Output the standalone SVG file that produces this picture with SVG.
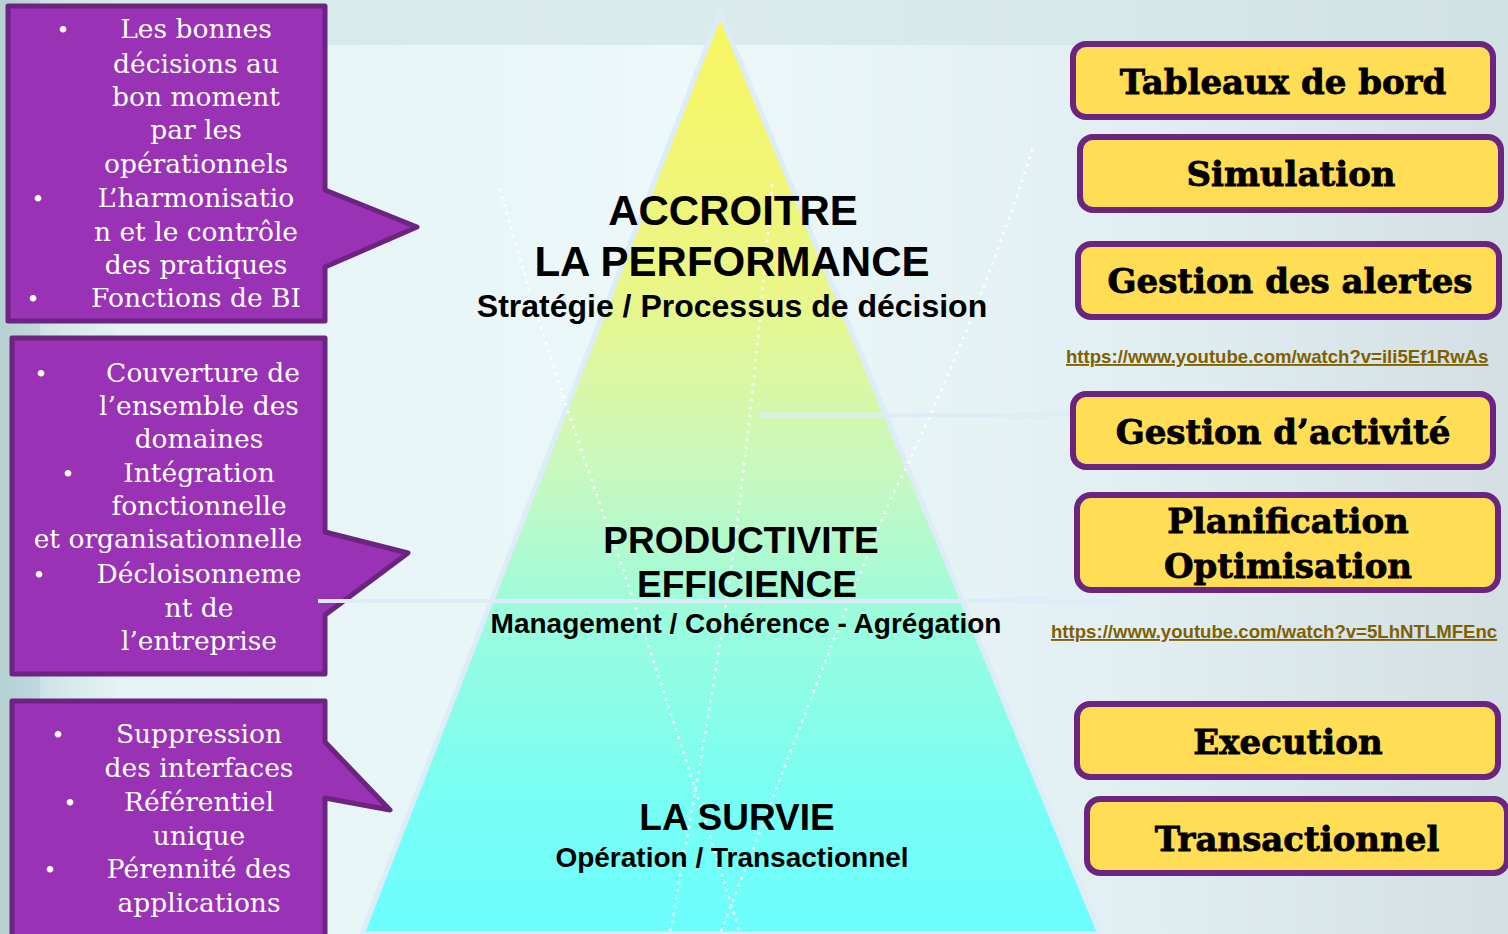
<svg xmlns="http://www.w3.org/2000/svg" width="1508" height="934" viewBox="0 0 1508 934">
<defs>
<linearGradient id="bg" x1="0" y1="0" x2="1" y2="0">
<stop offset="0" stop-color="#b9d3d6"/>
<stop offset="0.03" stop-color="#cfe4e6"/>
<stop offset="0.08" stop-color="#e4f3f5"/>
<stop offset="0.45" stop-color="#ecf8fa"/>
<stop offset="0.75" stop-color="#e2eff2"/>
<stop offset="1" stop-color="#d3dfe3"/>
</linearGradient>
<linearGradient id="pyr" x1="0" y1="13" x2="0" y2="934" gradientUnits="userSpaceOnUse">
<stop offset="0" stop-color="#f8f55e"/>
<stop offset="0.3" stop-color="#eaf688"/>
<stop offset="0.5" stop-color="#c8f8c0"/>
<stop offset="0.65" stop-color="#9cfcdc"/>
<stop offset="0.85" stop-color="#78fef4"/>
<stop offset="1" stop-color="#6cfefe"/>
</linearGradient>
<style>
.call{fill:#9932b5;stroke:#6b2480;stroke-width:5;stroke-linejoin:round}
.ct{font-family:"DejaVu Serif","Liberation Serif",serif;font-size:26.5px;fill:#ffffff;text-anchor:middle}
.bul{font-family:"DejaVu Serif","Liberation Serif",serif;font-size:22px;fill:#ffffff;text-anchor:middle}
.box{fill:#ffdd55;stroke:#6b2480;stroke-width:6}
.bt{font-family:"DejaVu Serif","Liberation Serif",serif;font-weight:bold;font-size:34px;fill:#000000;stroke:#000000;stroke-width:0.8;text-anchor:middle}
.pt{font-family:"Liberation Sans",Arial,sans-serif;font-weight:bold;fill:#000000;text-anchor:middle}
.lnk{font-family:"Liberation Sans",Arial,sans-serif;font-weight:bold;font-size:18.6px;fill:#7f6000;text-decoration:underline}
.dots{fill:none;stroke:#ffffff;stroke-width:3;stroke-linecap:round;stroke-dasharray:0 8;opacity:0.95}
.deco{stroke:#dcedf9;stroke-width:4}
</style>
</defs>
<rect x="0" y="0" width="1508" height="934" fill="url(#bg)"/>
<rect x="40" y="0" width="1468" height="45" fill="#cfe2e5" opacity="0.6"/>
<rect x="0" y="0" width="40" height="934" fill="#b3cdd0" opacity="0.5"/>

<g id="pyramid">
<polygon points="720,13 362,934 1100,934" fill="url(#pyr)" stroke="#dcecf8" stroke-width="5" stroke-linejoin="round"/>
</g>

<g id="decor">
<path class="dots" d="M500,190 C540,330 580,450 620,560 C660,680 700,800 740,934"/>
<path class="dots" d="M772,185 C760,330 745,470 728,590 C712,700 690,820 670,934"/>
<path class="dots" d="M1032,150 C990,280 940,400 890,500 C840,620 780,780 720,934"/>
</g>

<g id="callout-1">
<path class="call" d="M8,6 H325 V190 L417,227 L325,267 V321 H8 Z"/>
<text class="bul" x="63" y="38">•</text>
<text class="bul" x="38" y="207">•</text>
<text class="bul" x="33" y="307">•</text>
<text class="ct" x="196" y="38">Les bonnes</text>
<text class="ct" x="196" y="73">décisions au</text>
<text class="ct" x="196" y="106">bon moment</text>
<text class="ct" x="196" y="139">par les</text>
<text class="ct" x="196" y="173">opérationnels</text>
<text class="ct" x="196" y="207">L’harmonisatio</text>
<text class="ct" x="196" y="241">n et le contrôle</text>
<text class="ct" x="196" y="274">des pratiques</text>
<text class="ct" x="196" y="307">Fonctions de BI</text>
</g>

<g id="callout-2">
<path class="call" d="M12,338 H325 V532 L408,553 L325,615 V674 H12 Z"/>
<text class="bul" x="41" y="382">•</text>
<text class="bul" x="68" y="482">•</text>
<text class="bul" x="39" y="583">•</text>
<text class="ct" x="203" y="382">Couverture de</text>
<text class="ct" x="199" y="415">l’ensemble des</text>
<text class="ct" x="199" y="448">domaines</text>
<text class="ct" x="199" y="482">Intégration</text>
<text class="ct" x="199" y="515">fonctionnelle</text>
<text class="ct" x="168" y="548">et organisationnelle</text>
<text class="ct" x="199" y="583">Décloisonneme</text>
<text class="ct" x="199" y="617">nt de</text>
<text class="ct" x="199" y="650">l’entreprise</text>
</g>

<g id="callout-3">
<path class="call" d="M12,701 H325 V742 L390,810 L325,798 V940 H12 Z"/>
<text class="bul" x="58" y="743">•</text>
<text class="bul" x="70" y="811">•</text>
<text class="bul" x="50" y="878">•</text>
<text class="ct" x="199" y="743">Suppression</text>
<text class="ct" x="199" y="777">des interfaces</text>
<text class="ct" x="199" y="811">Référentiel</text>
<text class="ct" x="199" y="845">unique</text>
<text class="ct" x="199" y="878">Pérennité des</text>
<text class="ct" x="199" y="912">applications</text>
</g>

<g id="lines">
<line class="deco" x1="760" y1="415" x2="1075" y2="415"/>
<line class="deco" x1="318" y1="601" x2="1125" y2="601"/>
</g>

<g id="level-top">
<text class="pt" x="733" y="225" font-size="42">ACCROITRE</text>
<text class="pt" x="732" y="276" font-size="42">LA PERFORMANCE</text>
<text class="pt" x="732" y="317" font-size="32">Stratégie / Processus de décision</text>
</g>
<g id="level-middle">
<text class="pt" x="741" y="553" font-size="37">PRODUCTIVITE</text>
<text class="pt" x="747" y="597" font-size="37">EFFICIENCE</text>
<text class="pt" x="746" y="633" font-size="28">Management / Cohérence - Agrégation</text>
</g>
<g id="level-bottom">
<text class="pt" x="737" y="830" font-size="37">LA SURVIE</text>
<text class="pt" x="732" y="867" font-size="28">Opération / Transactionnel</text>
</g>

<g id="box-tableaux">
<rect class="box" x="1073" y="44" width="420" height="73" rx="13"/>
<text class="bt" x="1283" y="94">Tableaux de bord</text>
</g>
<g id="box-simulation">
<rect class="box" x="1080" y="137" width="421" height="73" rx="13"/>
<text class="bt" x="1291" y="186">Simulation</text>
</g>
<g id="box-alertes">
<rect class="box" x="1078" y="244" width="421" height="73" rx="13"/>
<text class="bt" x="1290" y="293">Gestion des alertes</text>
</g>
<g id="link-1">
<text class="lnk" x="1066" y="363">https://www.youtube.com/watch?v=ili5Ef1RwAs</text>
</g>
<g id="box-activite">
<rect class="box" x="1073" y="394" width="420" height="73" rx="13"/>
<text class="bt" x="1283" y="444">Gestion d’activité</text>
</g>
<g id="box-planification">
<rect class="box" x="1077" y="495" width="421" height="95" rx="14"/>
<text class="bt" x="1288" y="533">Planification</text>
<text class="bt" x="1288" y="578">Optimisation</text>
</g>
<g id="link-2">
<text class="lnk" x="1051" y="638">https://www.youtube.com/watch?v=5LhNTLMFEnc</text>
</g>
<g id="box-execution">
<rect class="box" x="1077" y="704" width="421" height="73" rx="13"/>
<text class="bt" x="1288" y="754">Execution</text>
</g>
<g id="box-transactionnel">
<rect class="box" x="1087" y="799" width="420" height="74" rx="13"/>
<text class="bt" x="1297" y="851">Transactionnel</text>
</g>
</svg>
